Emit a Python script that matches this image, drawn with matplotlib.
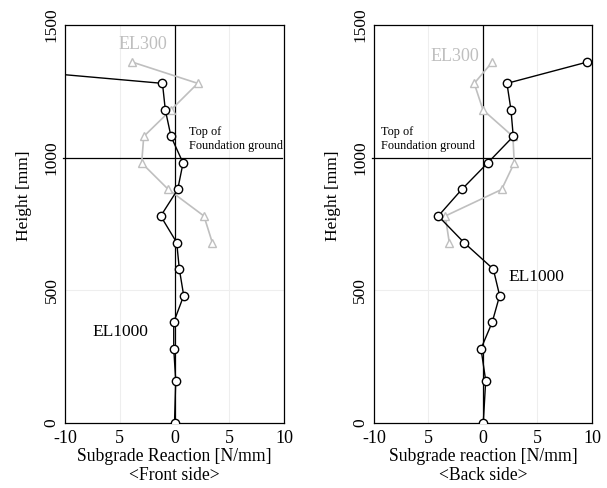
import matplotlib
matplotlib.use('Agg')
import matplotlib.pyplot as plt

plt.rcParams['font.family'] = ['Liberation Serif', 'DejaVu Serif']
plt.rcParams['font.size'] = 12

# Heights [mm]
h_el1000 = [1360, 1280, 1180, 1080, 980, 880, 780, 680, 580, 480, 380, 280, 160, 0]
h_el300 = [1360, 1280, 1180, 1080, 980, 880, 780, 680]

# Front side
front_el1000 = [-23.0, -1.1, -0.84, -0.32, 0.78, 0.29, -1.26, 0.2, 0.44, 0.84, -0.07, -0.07, 0.11, 0.0]
front_el300 = [-3.85, 2.12, -0.32, -2.81, -3.0, -0.56, 2.69, 3.45]

# Back side
back_el1000 = [9.54, 2.2, 2.57, 2.78, 0.43, -1.95, -4.1, -1.74, 0.95, 1.53, 0.85, -0.18, 0.25, 0.03]
back_el300 = [0.85, -0.8, 0.0, 2.75, 2.87, 1.71, -3.46, -3.09]

xticks = [-10, -5, 0, 5, 10]
xticklabels = ['-10', '5', '0', '5', '10']
yticks = [0, 500, 1000, 1500]

GRAY = '#bfbfbf'

fig = plt.figure(figsize=(6.07, 4.88), dpi=100)
ax1 = fig.add_axes([0.1071, 0.1332, 0.3608, 0.8156])
ax2 = fig.add_axes([0.6161, 0.1332, 0.3591, 0.8156])


def panel(ax, x1000, x300, xlabel):
    ax.set_xlim(-10, 10)
    ax.set_ylim(0, 1500)
    for v in (-5, 5):
        ax.axvline(v, color='#eeeeee', lw=0.8, zorder=0)
    ax.axhline(500, color='#eeeeee', lw=0.8, zorder=0)
    ax.axvline(0, color='black', lw=0.9, zorder=1)
    ax.axhline(1000, xmin=-0.01, xmax=0.99, color='black', lw=0.9, zorder=1, clip_on=False)

    ax.plot(x300, h_el300, color=GRAY, lw=1.2, marker='^', ms=5.5,
            mfc='white', mec=GRAY, mew=1.0, zorder=2)
    ax.plot(x1000, h_el1000, color='black', lw=1.0, marker='o', ms=6,
            mfc='white', mec='black', mew=1.0, zorder=3)

    ax.set_xticks(xticks)
    ax.set_xticklabels(xticklabels, fontsize=13)
    ax.set_yticks(yticks)
    ax.set_yticklabels([str(v) for v in yticks], rotation=90, va='center', fontsize=12.5)
    ax.tick_params(length=0, pad=4)
    ax.tick_params(axis='x', pad=5)
    for s in ax.spines.values():
        s.set_linewidth(0.9)
    ax.set_xlabel(xlabel, fontsize=12.7, linespacing=1.1, labelpad=1)
    ax.set_ylabel('Height [mm]', fontsize=12.5)
    ax.yaxis.set_label_coords(-0.15, 0.57)


panel(ax1, front_el1000, front_el300, 'Subgrade Reaction [N/mm]\n<Front side>')
panel(ax2, back_el1000, back_el300, 'Subgrade reaction [N/mm]\n<Back side>')

ax1.text(-2.9, 1428, 'EL300', color=GRAY, fontsize=13, ha='center', va='center')
ax1.text(1.35, 1070, 'Top of\nFoundation ground', fontsize=8.8, ha='left', va='center', linespacing=1.25)
ax1.text(-4.98, 342, 'EL1000', fontsize=12.5, ha='center', va='center')

ax2.text(-2.57, 1383, 'EL300', color=GRAY, fontsize=13, ha='center', va='center')
ax2.text(-9.4, 1070, 'Top of\nFoundation ground', fontsize=8.8, ha='left', va='center', linespacing=1.25)
ax2.text(4.9, 551, 'EL1000', fontsize=12.5, ha='center', va='center')

fig.savefig('out.png', dpi=100)
